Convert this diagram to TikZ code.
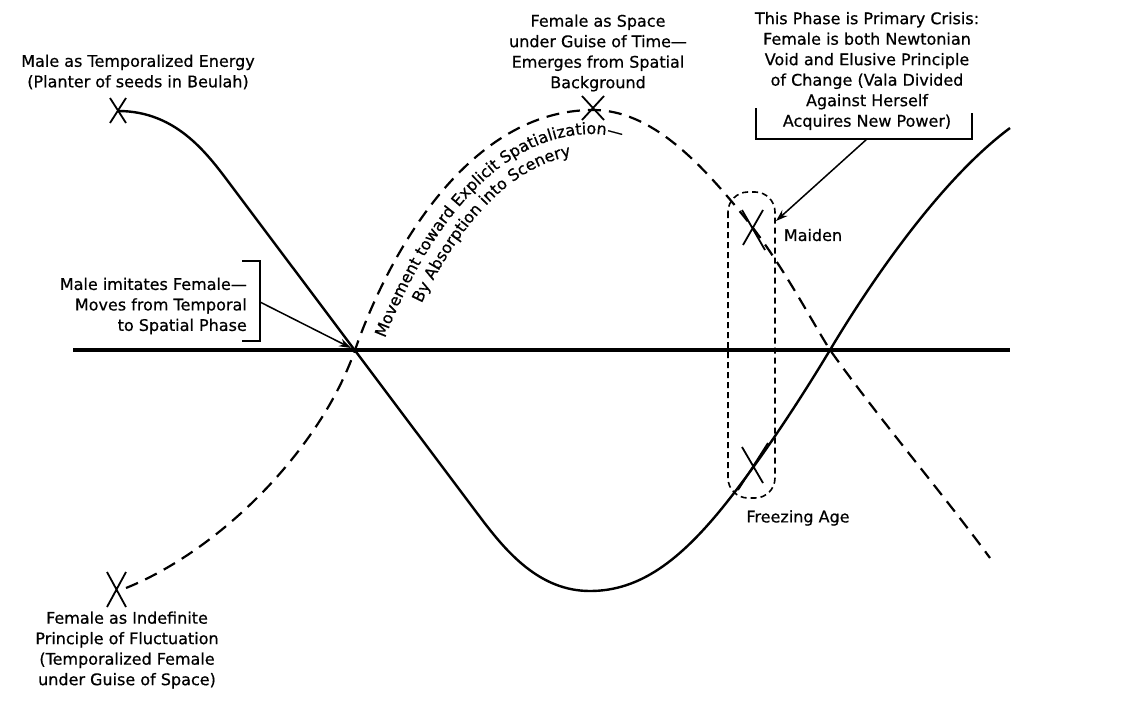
\documentclass[tikz,border=0pt]{standalone}
\usepackage{fontspec}
\setmainfont[FakeBold=0.6]{DejaVu Sans}
\usetikzlibrary{arrows.meta,decorations.text}
\tikzset{
  curve/.style={line width=2.4pt, line join=round},
  dcurve/.style={line width=2.2pt, dash pattern=on 13pt off 8pt},
  axisline/.style={line width=3.4pt},
  xmark/.style={line width=1.8pt},
  lbl/.style={font=\fontsize{16}{20.5}\selectfont, align=center, inner sep=0pt},
  ptr/.style={line width=1.5pt, -{Stealth[length=12pt,width=8pt,inset=4pt]}},
  brk/.style={line width=1.5pt},
  zone/.style={line width=1.6pt, dash pattern=on 6pt off 4pt, rounded corners=20pt},
}
\begin{document}
\begin{tikzpicture}[x=1pt,y=-1pt]
\useasboundingbox (0,0) rectangle (1132,725);

% key points
\coordinate (L) at (355,350);
\coordinate (R) at (830,350);
\coordinate (axL) at (73,350);
\coordinate (axR) at (1010,350);
\coordinate (Ltip) at (351,348);
\coordinate (mTop) at (118,111);
\coordinate (fBot) at (126,588);
\coordinate (fPeak) at (593,110);
\coordinate (mMin) at (590,591);

% axis
\draw[axisline] (axL) -- (axR);

% solid curve (male)
\draw[curve] (mTop) .. controls (178,111) and (209,156) .. (233,188)
  -- (480,517) .. controls (507,553) and (540,591) .. (mMin)
  .. controls (640,591) and (680,560) .. (723,507)
  .. controls (760,461) and (800,400) .. (R)
  .. controls (870,283) and (940,180) .. (1010,128);

% dashed curve (female)
\draw[dcurve] (fBot) .. controls (220,550) and (320,450) .. (L)
  .. controls (390,250) and (470,110) .. (fPeak)
  .. controls (650,110) and (700,160) .. (753,228)
  .. controls (785,270) and (810,318) .. (R)
  .. controls (880,420) and (940,490) .. (990,558);

% text along the dashed curve
\path[decorate, decoration={text along path, text align={left indent=21pt},
  text={|\fontsize{16}{19}\selectfont|Movement toward Explicit Spatialization—}}]
  (377.7,357.9) .. controls (411.9,260) and (483.9,134) .. (593,134)
  .. controls (640.1,134) and (682,175.9) .. (734,242.8);
\path[decorate, decoration={text along path, text align={left indent=66pt},
  text={|\fontsize{16}{19}\selectfont|By Absorption into Scenery}}]
  (396.5,364.5) .. controls (430.2,268.3) and (495.5,154) .. (593,154)
  .. controls (631.8,154) and (667,189) .. (718,255);

% X marks
\draw[xmark] (110,98) -- (126,123) (126,98) -- (110,123);
\draw[xmark] (582,96) -- (604,120) (604,96) -- (582,120);
\draw[xmark] (107,572) -- (126,607) (126,572) -- (107,607);
\draw[xmark] (763,210) -- (743,245) (742,210) -- (765,250);
\draw[xmark] (742,447) -- (763,483) (768,443) -- (738,490);

% crisis zone
\draw[zone] (728,192) rectangle (775,498);

% labels
\node[lbl] (maleE) at (138,72) {Male as Temporalized Energy\\(Planter of seeds in Beulah)};
\node[lbl] (femS) at (598,53) {Female as Space\\under Guise of Time—\\Emerges from Spatial\\Background};
\node[lbl] (crisis) at (867,71) {This Phase is Primary Crisis:\\Female is both Newtonian\\Void and Elusive Principle\\of Change (Vala Divided\\Against Herself\\Acquires New Power)};
\node[lbl, align=right, anchor=east] (imit) at (247,306) {Male imitates Female—\\Moves from Temporal\\to Spatial Phase};
\node[lbl] (femI) at (127,650) {Female as Indefinite\\Principle of Fluctuation\\(Temporalized Female\\under Guise of Space)};
\node[lbl] (maiden) at (813,235) {Maiden};
\node[lbl] (freeze) at (798,518) {Freezing Age};

% brackets
\coordinate (lb) at (260,302);
\draw[brk] (242,261) -- (260,261) -- (260,341) -- (242,341);
\coordinate (rb) at (867,139);
\draw[brk] (756,108) -- (756,139) -- (972,139) -- (972,113);
\coordinate (mt) at (776,221);

% pointers
\draw[ptr] (lb) -- (Ltip);
\draw[ptr] (rb) -- (mt);
\end{tikzpicture}
\end{document}
